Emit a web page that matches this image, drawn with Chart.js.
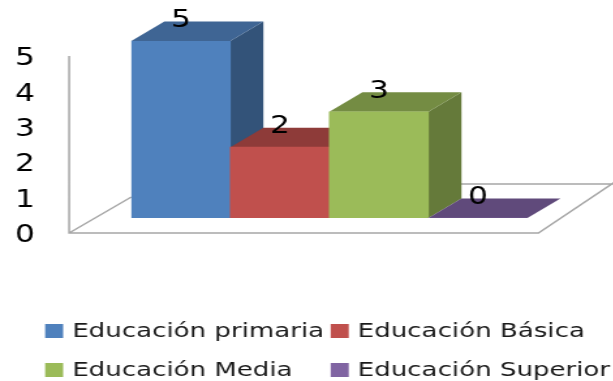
<!DOCTYPE html>
<html>
<head>
<meta charset="utf-8">
<script src="https://cdn.jsdelivr.net/npm/chart.js@4"></script>
<style>
  html, body { margin: 0; padding: 0; background: #fff; overflow: hidden; }
  #wrap { width: 613px; height: 381px; overflow: hidden; }
  /* canvas is laid out narrow and widened, which gives the wide lettering */
  #grafico { display: block; transform-origin: 0 0; }
</style>
</head>
<body>
<div id="wrap"><canvas id="grafico"></canvas></div>
<script>
const categorias = ["Educación primaria", "Educación Básica", "Educación Media", "Educación Superior"];
const valores = [5, 2, 3, 0];
const marcasY = [0, 1, 2, 3, 4, 5];
const colorFrente = ["#4f81bd", "#c0504d", "#9bbb59", "#8064a2"];
const colorTapa = ["#3f6594", "#8e3b39", "#748c43", "#604a7b"];
const colorLado = ["#335379", "#7a3331", "#657a3a", "#523f6a"];

const ESTIRA = 1.3;
const ANCHO = 613 / ESTIRA;
const ALTO = 381;
const FUENTE = "'DejaVu Sans', sans-serif";
const fx = px => px / ESTIRA;   // page pixels to canvas pixels, horizontally

const canvas = document.getElementById("grafico");
canvas.width = ANCHO;
canvas.height = ALTO;
canvas.style.width = ANCHO + "px";
canvas.style.height = ALTO + "px";
canvas.style.transform = "scaleX(" + ESTIRA + ")";

const FONDO_X = fx(33), FONDO_Y = 19.5;

function poligono(ctx, puntos, color) {
  ctx.fillStyle = color;
  ctx.beginPath();
  puntos.forEach((p, i) => i ? ctx.lineTo(p[0], p[1]) : ctx.moveTo(p[0], p[1]));
  ctx.closePath();
  ctx.fill();
}

// floor outline and vertical axis line
const pisoPlugin = {
  id: "piso",
  beforeDatasetsDraw(chart) {
    const ctx = chart.ctx, xs = chart.scales.x, ys = chart.scales.y;
    const y0 = ys.getPixelForValue(0) + 15;
    const yTop = ys.getPixelForValue(5) + 15;
    const izq = xs.left - fx(62);
    const der = xs.right + fx(11);
    const atras = y0 - 49;
    ctx.save();
    ctx.strokeStyle = "#a6a6a6";
    ctx.lineWidth = 1.5;
    ctx.beginPath();
    ctx.moveTo(izq, yTop);
    ctx.lineTo(izq, y0);
    ctx.lineTo(der, y0);
    ctx.lineTo(der + fx(80), y0 - 53.5);
    ctx.moveTo(izq, y0);
    ctx.lineTo(xs.left, y0 - 36);
    ctx.moveTo(xs.left + fx(300), atras);
    ctx.lineTo(ANCHO, atras);
    ctx.stroke();
    ctx.restore();
  }
};

// top and side faces of each bar, back to front
const cajaPlugin = {
  id: "caja",
  beforeDatasetsDraw(chart) {
    const ctx = chart.ctx;
    const barras = chart.getDatasetMeta(0).data;
    ctx.save();
    barras.forEach((b, i) => {
      const l = b.x - b.width / 2, r = b.x + b.width / 2;
      poligono(ctx, [[r, b.y], [r + FONDO_X, b.y - FONDO_Y], [r + FONDO_X, b.base - FONDO_Y], [r, b.base]], colorLado[i]);
      poligono(ctx, [[l, b.y], [l + FONDO_X, b.y - FONDO_Y], [r + FONDO_X, b.y - FONDO_Y], [r, b.y]], colorTapa[i]);
    });
    ctx.restore();
  },
  afterDatasetsDraw(chart) {
    // value labels above each bar
    const ctx = chart.ctx;
    ctx.save();
    ctx.fillStyle = "#000";
    ctx.font = "24px " + FUENTE;
    ctx.textAlign = "center";
    ctx.textBaseline = "middle";
    chart.getDatasetMeta(0).data.forEach((b, i) => {
      ctx.fillText(String(valores[i]), b.x, b.y - 20);
    });
    ctx.restore();
  }
};

// two-column legend below the chart
const leyendaPlugin = {
  id: "leyenda",
  afterDraw(chart) {
    const ctx = chart.ctx;
    const columnas = [fx(45), fx(330)];
    const filas = [331, 370];
    ctx.save();
    ctx.font = "20px " + FUENTE;
    ctx.textBaseline = "middle";
    ctx.textAlign = "left";
    categorias.forEach((nombre, i) => {
      const x = columnas[i % 2], y = filas[Math.floor(i / 2)];
      ctx.fillStyle = colorFrente[i];
      ctx.fillRect(x, y - 7, fx(18), 14);
      ctx.fillStyle = "#1a1a1a";
      ctx.fillText(nombre, x + fx(27), y + 1);
    });
    ctx.restore();
  }
};

new Chart(canvas, {
  type: "bar",
  data: {
    labels: categorias,
    datasets: [{
      data: valores,
      backgroundColor: colorFrente,
      borderWidth: 0,
      categoryPercentage: 1,
      barPercentage: 1
    }]
  },
  options: {
    responsive: false,
    animation: false,
    layout: { padding: { top: 41, bottom: 381 - 218, left: fx(15), right: fx(613 - 527) } },
    plugins: { legend: { display: false }, tooltip: { enabled: false } },
    scales: {
      x: { display: false },
      y: {
        min: 0,
        max: 5,
        afterBuildTicks(scale) { scale.ticks = marcasY.map(v => ({ value: v })); },
        afterFit(scale) { scale.width = fx(131 - 15); },
        grid: { display: false, drawTicks: false },
        border: { display: false },
        ticks: {
          crossAlign: "far",
          labelOffset: 18,
          color: "#000",
          font: { family: FUENTE, size: 24 }
        }
      }
    }
  },
  plugins: [pisoPlugin, cajaPlugin, leyendaPlugin]
});
</script>
</body>
</html>
